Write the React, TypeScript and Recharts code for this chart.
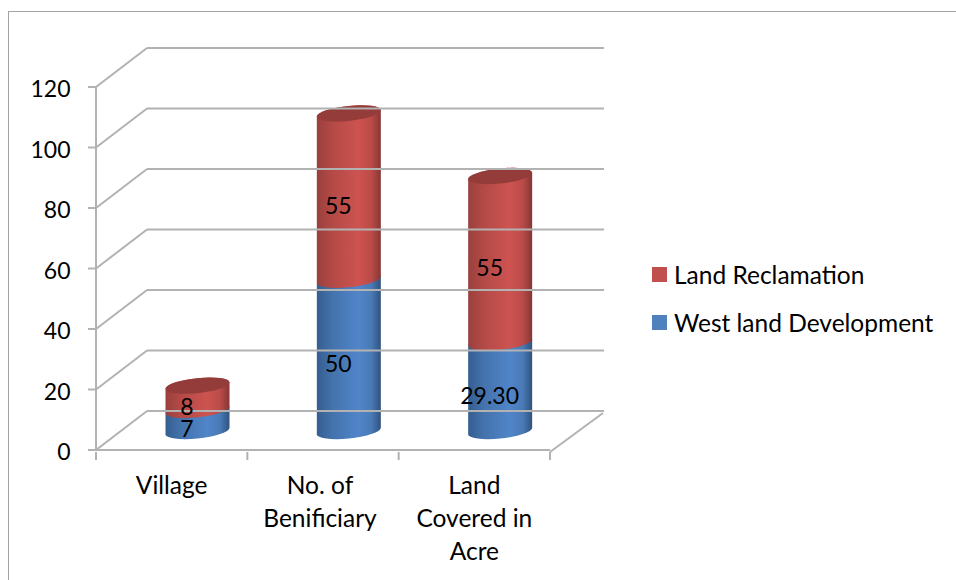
import React from "react";
import { BarChart, Bar, XAxis, YAxis, Legend, LabelList } from "recharts";

const categories = ["Village", "No. of|Benificiary", "Land|Covered in|Acre"];
const westLand = [7, 50, 29.3];
const reclamation = [8, 55, 55];
const westLabels = ["7", "50", "29.30"];
const reclamationLabels = ["8", "55", "55"];
const yTicks = [0, 20, 40, 60, 80, 100, 120];

const data = categories.map((c, i) => ({ name: c, west: westLand[i], land: reclamation[i] }));

const FONT = "Lato, Carlito, sans-serif";
const FS = 24.5;
const NUM_FS = 23;
const GRID = "#b2b2b2";
const DX = 51;
const DY = -39;
const BACK_W = 457;

const YTick = (p: any) => {
  const { x, y, payload } = p;
  const ax = x + 8;
  return (
    <g>
      <line x1={ax} y1={y} x2={ax + DX} y2={y + DY} stroke={GRID} strokeWidth={2} />
      <line x1={ax + DX} y1={y + DY} x2={ax + DX + BACK_W} y2={y + DY} stroke={GRID} strokeWidth={2} />
      <line x1={ax - 8} y1={y} x2={ax} y2={y} stroke={GRID} strokeWidth={2} />
      <text x={ax - 25.5} y={y + 10} textAnchor="end" fontFamily={FONT} fontSize={NUM_FS} fill="#000">
        {payload.value}
      </text>
    </g>
  );
};

const XTick = (p: any) => {
  const { x, y, payload, index } = p;
  const band = 151.33;
  const left = x - band / 2;
  const right = x + band / 2;
  const lines = String(payload.value).split("|");
  return (
    <g>
      <line x1={left} y1={y} x2={left} y2={y + 8} stroke={GRID} strokeWidth={2} />
      {index === categories.length - 1 && (
        <g>
          <line x1={right} y1={y} x2={right} y2={y + 8} stroke={GRID} strokeWidth={2} />
          <line x1={right} y1={y} x2={right + 53} y2={y + DY} stroke={GRID} strokeWidth={2} />
        </g>
      )}
      {lines.map((t, i) => (
        <text key={i} x={x - (index === 1 ? 3 : 0)} y={y + 42 + i * 33} textAnchor="middle" fontFamily={FONT} fontSize={FS} fill="#000">
          {t}
        </text>
      ))}
    </g>
  );
};

const SHIFT_X = 25.5;
const SHIFT_Y = -19;
const RY = 7.5;
const SLOPE = 0.1;

const makeCylinder = (grad: string, cap?: string) => (p: any) => {
  const { x, y, width, height } = p;
  const r = width / 2;
  const cx = x + r + SHIFT_X;
  const yt = y + SHIFT_Y;
  const yb = y + height + SHIFT_Y;
  const d = `M ${-r} ${yt} L ${-r} ${yb} A ${r} ${RY} 0 0 0 ${r} ${yb} L ${r} ${yt} A ${r} ${RY} 0 0 0 ${-r} ${yt} Z`;
  return (
    <g transform={`matrix(1 ${-SLOPE} 0 1 ${cx} 0)`}>
      <path d={d} fill={`url(#${grad})`} />
      {cap && <ellipse cx={0} cy={yt} rx={r} ry={RY} fill={cap} />}
    </g>
  );
};

const makeLabel = (labels: string[]) => (p: any) => {
  const { x, y, width, height, index } = p;
  return (
    <text x={x + width / 2 + 15} y={y + height / 2 - 10.5 + 8.5} textAnchor="middle" fontFamily={FONT} fontSize={NUM_FS} fill="#000">
      {labels[index]}
    </text>
  );
};

const LegendBox = (p: any) => {
  const items = [...(p.payload || [])];
  return (
    <div style={{ fontFamily: FONT, fontSize: FS, color: "#000" }}>
      {items.map((it: any) => (
        <div key={it.value} style={{ display: "flex", alignItems: "center", height: 48 }}>
          <span style={{ width: 15, height: 15, background: it.color, marginRight: 7, display: "inline-block" }} />
          <span>{it.value}</span>
        </div>
      ))}
    </div>
  );
};

export default function App() {
  return (
    <div style={{ position: "absolute", left: 0, top: 0, width: 956, height: 580, background: "#fff", overflow: "hidden" }}>
      <div style={{ position: "absolute", left: 8, top: 11, width: 948, height: 569, borderLeft: "1.5px solid #a3a3a3", borderTop: "1.5px solid #a3a3a3", boxSizing: "border-box" }} />
      <BarChart
        width={956}
        height={580}
        data={data}
        barSize={64}
        margin={{ top: 87, right: 406, bottom: 0, left: 0 }}
        style={{ position: "absolute", left: 0, top: 0 }}
      >
        <defs>
          <linearGradient id="blueG" x1="0" y1="0" x2="1" y2="0">
            <stop offset="0" stopColor="#355e90" />
            <stop offset="0.25" stopColor="#4473ad" />
            <stop offset="0.65" stopColor="#5085c9" />
            <stop offset="0.85" stopColor="#4a7ab6" />
            <stop offset="1" stopColor="#2f5380" />
          </linearGradient>
          <linearGradient id="redG" x1="0" y1="0" x2="1" y2="0">
            <stop offset="0" stopColor="#9a403d" />
            <stop offset="0.25" stopColor="#b44a47" />
            <stop offset="0.65" stopColor="#cd5350" />
            <stop offset="0.85" stopColor="#bb4b48" />
            <stop offset="1" stopColor="#863735" />
          </linearGradient>
        </defs>
        <YAxis
          width={96}
          domain={[0, 120]}
          ticks={yTicks}
          interval={0}
          tickLine={false}
          axisLine={{ stroke: GRID, strokeWidth: 2 }}
          tick={<YTick />}
        />
        <XAxis
          dataKey="name"
          height={130}
          interval={0}
          tickLine={false}
          tickSize={0}
          axisLine={{ stroke: GRID, strokeWidth: 2 }}
          tick={<XTick />}
        />
        <Legend
          layout="vertical"
          align="center"
          verticalAlign="middle"
          content={<LegendBox />}
          wrapperStyle={{ left: 652, top: 250, width: 300, height: 96 }}
        />
        <Bar dataKey="west" name="West land Development" stackId="a" fill="#4f81bd" isAnimationActive={false} shape={makeCylinder("blueG")}>
          <LabelList dataKey="west" content={makeLabel(westLabels)} />
        </Bar>
        <Bar dataKey="land" name="Land Reclamation" stackId="a" fill="#c0504d" isAnimationActive={false} shape={makeCylinder("redG", "#943c3a")}>
          <LabelList dataKey="land" content={makeLabel(reclamationLabels)} />
        </Bar>
      </BarChart>
    </div>
  );
}
